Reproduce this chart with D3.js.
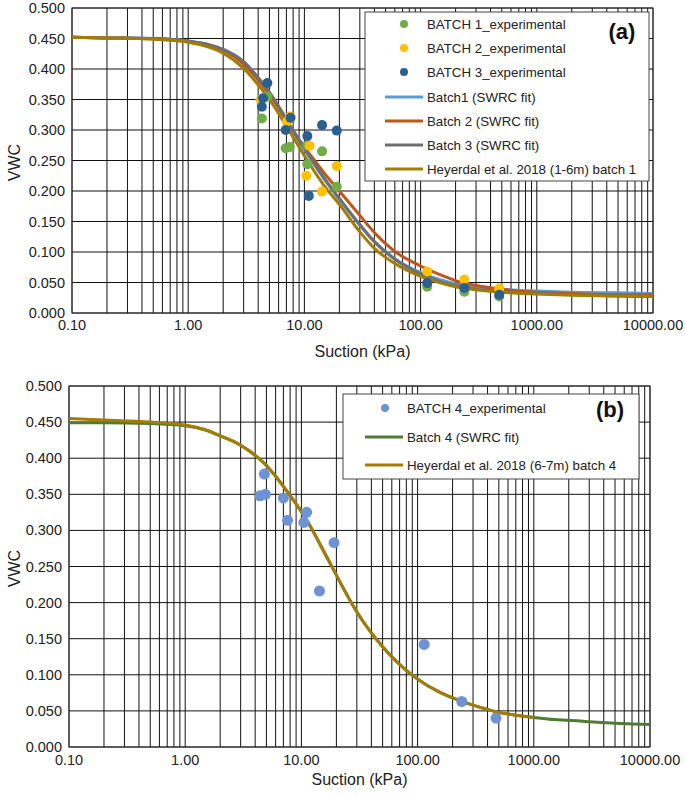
<!DOCTYPE html>
<html><head><meta charset="utf-8">
<script src="https://cdn.jsdelivr.net/npm/d3@7"></script>
<style>
body{margin:0;background:#fff}
svg{display:block;font-family:"Liberation Sans",Arial,sans-serif}
</style>
</head><body>
<svg id="c" width="685" height="796"></svg>
<script>
// ---------- DATA ----------
const xTickValues = [0.1, 1, 10, 100, 1000, 10000];
const yTickValues = [0, 0.05, 0.1, 0.15, 0.2, 0.25, 0.3, 0.35, 0.4, 0.45, 0.5];

// Panel (a) experimental points [suction kPa, VWC]
const batch1Points = [[4.3,0.319],[4.8,0.355],[6.9,0.270],[7.5,0.272],[10.6,0.275],[10.6,0.244],[14.2,0.265],[19.0,0.207],[114,0.043],[238,0.035],[475,0.027]];
const batch2Points = [[4.2,0.350],[7.1,0.314],[7.5,0.322],[10.4,0.225],[11.1,0.274],[14.2,0.199],[19.0,0.241],[114,0.068],[238,0.055],[475,0.040]];
const batch3Points = [[4.3,0.338],[4.4,0.352],[4.8,0.377],[6.9,0.300],[7.6,0.320],[10.6,0.290],[10.9,0.192],[14.2,0.308],[19.0,0.299],[114,0.049],[238,0.041],[475,0.030]];

// Panel (a) fitted curves
const suctionA = [0.1,0.2,0.5,1,1.5,2,3,4,5,6,7,8,10,12,15,20,30,40,60,100,150,200,300,500,1000,2000,5000,10000];
const batch1Fit = [0.452,0.451,0.450,0.446,0.440,0.432,0.411,0.385,0.360,0.337,0.316,0.297,0.268,0.245,0.218,0.186,0.144,0.117,0.089,0.066,0.054,0.048,0.043,0.039,0.036,0.034,0.033,0.032];
const batch2Fit = [0.452,0.451,0.449,0.445,0.439,0.431,0.408,0.382,0.358,0.336,0.316,0.299,0.272,0.252,0.228,0.200,0.160,0.132,0.101,0.077,0.062,0.053,0.045,0.039,0.034,0.032,0.030,0.030];
const batch3Fit = [0.452,0.451,0.450,0.446,0.440,0.432,0.412,0.386,0.362,0.339,0.318,0.299,0.270,0.247,0.220,0.188,0.145,0.117,0.088,0.064,0.051,0.045,0.039,0.035,0.032,0.030,0.028,0.027];
const heyerdalA  = [0.452,0.451,0.449,0.444,0.436,0.426,0.401,0.374,0.350,0.327,0.306,0.288,0.258,0.234,0.207,0.178,0.133,0.106,0.081,0.060,0.049,0.043,0.038,0.034,0.031,0.029,0.028,0.027];

// Panel (b)
const batch4Points = [[4.4,0.348],[4.8,0.378],[4.9,0.350],[7.0,0.345],[7.6,0.314],[10.5,0.311],[11.1,0.325],[14.3,0.216],[19.1,0.283],[114,0.142],[240,0.063],[473,0.040]];
const suctionB4 = [0.1,0.2,0.5,1,1.5,2,3,4,5,6,7,8,10,12,15,20,30,40,50,60,80,100,150,200,300,500,700,1000,1500,2000,3000,5000,7000,10000];
const batch4Fit = [0.449,0.449,0.448,0.445,0.439,0.431,0.418,0.404,0.390,0.375,0.361,0.348,0.326,0.305,0.276,0.238,0.187,0.158,0.139,0.125,0.106,0.094,0.077,0.068,0.058,0.048,0.044,0.041,0.038,0.037,0.035,0.033,0.032,0.031];
const suctionB = [0.1,0.2,0.5,1,1.5,2,3,4,5,6,7,8,10,12,15,20,30,40,50,60,80,100,150,200,300,500,700,1000];
const heyerdalB = [0.455,0.453,0.450,0.446,0.439,0.431,0.418,0.404,0.390,0.375,0.361,0.348,0.326,0.305,0.276,0.238,0.187,0.158,0.139,0.125,0.106,0.094,0.077,0.068,0.058,0.048,0.044,0.041];

const legendA = ["BATCH 1_experimental","BATCH 2_experimental","BATCH 3_experimental","Batch1 (SWRC fit)","Batch 2 (SWRC fit)","Batch 3 (SWRC fit)","Heyerdal et al. 2018 (1-6m) batch 1"];
const legendB = ["BATCH 4_experimental","Batch 4 (SWRC fit)","Heyerdal et al. 2018 (6-7m) batch 4"];

// ---------- DRAW ----------
const svg = d3.select("#c");
const zip = (xs, ys) => xs.map((x, i) => [x, ys[i]]);

function panel(cfg) {
  const x = d3.scaleLog().domain([0.1, 10000]).range([cfg.left, cfg.right]);
  const y = d3.scaleLinear().domain([0, 0.5]).range([cfg.bottom, cfg.top]);
  const g = svg.append("g");
  const id = "clip" + cfg.name;
  svg.append("clipPath").attr("id", id).append("rect")
    .attr("x", cfg.left).attr("y", cfg.top).attr("width", cfg.right - cfg.left).attr("height", cfg.bottom - cfg.top);

  // grid
  g.selectAll(".vg").data(x.ticks()).join("line")
    .attr("x1", d => x(d)).attr("x2", d => x(d)).attr("y1", cfg.top).attr("y2", cfg.bottom)
    .attr("stroke", "#111").attr("stroke-width", 1);
  g.selectAll(".hg").data(yTickValues).join("line")
    .attr("x1", cfg.left).attr("x2", cfg.right).attr("y1", d => y(d)).attr("y2", d => y(d))
    .attr("stroke", "#111").attr("stroke-width", 1);
  g.append("rect").attr("x", cfg.left).attr("y", cfg.top).attr("width", cfg.right - cfg.left).attr("height", cfg.bottom - cfg.top)
    .attr("fill", "none").attr("stroke", "#333").attr("stroke-width", 1);

  // tick labels
  g.selectAll(".xl").data(xTickValues).join("text")
    .attr("x", d => x(d)).attr("y", cfg.bottom + cfg.xLabOff).attr("dy", "0.35em")
    .attr("text-anchor", "middle").attr("font-size", 14.5).attr("fill", "#222")
    .text(d => d.toFixed(2));
  g.selectAll(".yl").data(yTickValues).join("text")
    .attr("x", cfg.left - 7).attr("y", d => y(d)).attr("dy", "0.35em")
    .attr("text-anchor", "end").attr("font-size", 14.5).attr("fill", "#222")
    .text(d => d.toFixed(3));
  g.append("text").attr("x", (cfg.left + cfg.right) / 2).attr("y", cfg.titleY).attr("dy", "0.35em")
    .attr("text-anchor", "middle").attr("font-size", 16).attr("fill", "#222").text("Suction (kPa)");
  g.append("text").attr("transform", `translate(14,${(cfg.top + cfg.bottom) / 2 + 2}) rotate(-90)`).attr("dy", "0.35em")
    .attr("text-anchor", "middle").attr("font-size", 16).attr("fill", "#222").text("VWC");

  // lines
  const line = d3.line().x(d => x(d[0])).y(d => y(d[1])).curve(d3.curveMonotoneX);
  const lg = g.append("g").attr("clip-path", `url(#${id})`);
  cfg.lines.forEach(l => {
    lg.append("path").datum(l.data).attr("d", line).attr("fill", "none")
      .attr("stroke", l.color).attr("stroke-width", 3).attr("stroke-linejoin", "round");
  });
  // points
  cfg.points.forEach(p => {
    lg.append("g").selectAll("circle").data(p.data).join("circle")
      .attr("cx", d => x(d[0])).attr("cy", d => y(d[1])).attr("r", p.r).attr("fill", p.color);
  });

  // legend
  const L = cfg.legend;
  g.append("rect").attr("x", L.x).attr("y", L.y).attr("width", L.w).attr("height", L.h)
    .attr("fill", "#fff").attr("stroke", "#444").attr("stroke-width", 1);
  L.items.forEach((it, i) => {
    const yy = L.rows[i];
    if (it.type === "dot") {
      g.append("circle").attr("cx", L.dotX).attr("cy", yy).attr("r", 4).attr("fill", it.color);
    } else {
      g.append("line").attr("x1", L.lineX1).attr("x2", L.lineX2).attr("y1", yy).attr("y2", yy)
        .attr("stroke", it.color).attr("stroke-width", 3);
    }
    g.append("text").attr("x", L.textX).attr("y", yy).attr("dy", "0.35em")
      .attr("font-size", 13.3).attr("fill", "#222").text(it.label);
  });
  g.append("text").attr("x", L.tagX).attr("y", L.tagY).attr("dy", "0.35em").attr("text-anchor", "middle")
    .attr("font-size", 22).attr("font-weight", "bold").attr("fill", "#111").text(L.tag);
}

const C = {
  green: "#70AD47", yellow: "#FFC000", navy: "#2A5F90", lblue: "#5B9BD5",
  brown: "#C0561A", gray: "#6F6F6F", gold: "#A37C05", b4pt: "#6D93D5", b4line: "#4F7B33"
};

panel({
  name: "a", left: 72, right: 653, top: 8, bottom: 313, xLabOff: 12, titleY: 351,
  lines: [
    {data: zip(suctionA, batch1Fit), color: C.lblue},
    {data: zip(suctionA, batch2Fit), color: C.brown},
    {data: zip(suctionA, batch3Fit), color: C.gray},
    {data: zip(suctionA, heyerdalA), color: C.gold}
  ],
  points: [
    {data: batch1Points, color: C.green, r: 5},
    {data: batch2Points, color: C.yellow, r: 5},
    {data: batch3Points, color: C.navy, r: 5}
  ],
  legend: {
    x: 365, y: 12, w: 284, h: 169, dotX: 404, lineX1: 385, lineX2: 423, textX: 427,
    rows: [24, 48, 72, 97, 121, 145, 169], tag: "(a)", tagX: 622, tagY: 31,
    items: [
      {type: "dot", color: C.green, label: legendA[0]},
      {type: "dot", color: C.yellow, label: legendA[1]},
      {type: "dot", color: C.navy, label: legendA[2]},
      {type: "line", color: C.lblue, label: legendA[3]},
      {type: "line", color: C.brown, label: legendA[4]},
      {type: "line", color: C.gray, label: legendA[5]},
      {type: "line", color: C.gold, label: legendA[6]}
    ]
  }
});

panel({
  name: "b", left: 69, right: 650, top: 386, bottom: 747, xLabOff: 13, titleY: 779,
  lines: [
    {data: zip(suctionB4, batch4Fit), color: C.b4line},
    {data: zip(suctionB, heyerdalB), color: C.gold}
  ],
  points: [
    {data: batch4Points, color: C.b4pt, r: 5.5}
  ],
  legend: {
    x: 343, y: 394, w: 296, h: 85, dotX: 385, lineX1: 365, lineX2: 403, textX: 407,
    rows: [408, 437, 465], tag: "(b)", tagX: 610, tagY: 409,
    items: [
      {type: "dot", color: C.b4pt, label: legendB[0]},
      {type: "line", color: C.b4line, label: legendB[1]},
      {type: "line", color: C.gold, label: legendB[2]}
    ]
  }
});
</script>
</body></html>
